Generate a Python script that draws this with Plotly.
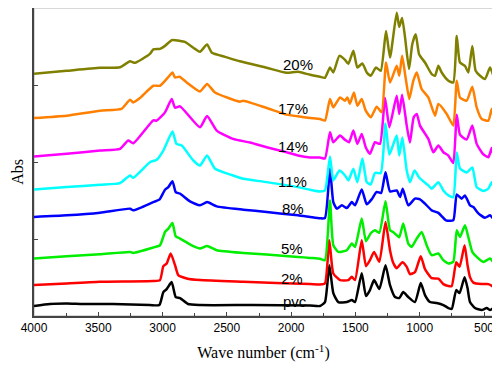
import plotly.graph_objects as go

# ---- data: wavenumbers (cm^-1) and stacked absorbance (arbitrary units) ----
wn_pvc = [4000, 3876, 3746, 3619, 3386, 3100, 3025, 2994, 2968, 2929, 2898, 2864, 2802, 2709, 2300, 1853, 1776, 1737, 1703, 1672,
          1633, 1567, 1528, 1503, 1451, 1418, 1387, 1355, 1314, 1266, 1231, 1192, 1159, 1128, 1089, 1037, 992, 959, 920, 868,
          816, 777, 751, 716, 690, 651, 628, 609, 570, 518, 479, 453, 427]
abs_pvc = [10, 12, 12.5, 12, 12, 11, 11, 24, 27, 34, 19, 18, 12, 11, 11, 10.5, 10, 14, 51, 23,
           14, 14, 16, 14, 43, 20, 26, 36, 27, 51, 31, 19, 18, 24, 19, 14, 33, 21, 14, 13,
           11, 8, 7, 26, 23, 39, 28, 14, 8, 6, 8, 6, 8]

wn_2 = [4000, 3746, 3487, 3072, 3020, 2994, 2968, 2937, 2903, 2878, 2812, 2709, 2372, 1853, 1776, 1737, 1703, 1672, 1620, 1555,
        1528, 1503, 1451, 1418, 1387, 1355, 1314, 1266, 1231, 1208, 1179, 1135, 1101, 1076, 1037, 992, 959, 907, 855, 816,
        777, 751, 716, 690, 651, 628, 609, 583, 518, 466, 427]
abs_2 = [31, 32.7, 34.3, 35, 36, 50, 52.7, 62.7, 51, 41, 37.7, 36, 34.3, 32, 31.5, 32.7, 76, 42.7, 36, 36,
         39.3, 36, 76, 50, 56, 64.3, 54.3, 94.3, 66, 54, 48, 54, 49.3, 42, 44, 60, 47, 38, 37.5, 32,
         30, 30, 54, 49.3, 71, 51, 39, 33.5, 32, 32, 29.3]

wn_5 = [4000, 3746, 3487, 3253, 3228, 3072, 3020, 2981, 2955, 2923, 2898, 2864, 2761, 2709, 2654, 2579, 2372, 2190, 1947, 1853,
        1776, 1737, 1698, 1672, 1633, 1567, 1528, 1503, 1451, 1418, 1381, 1348, 1314, 1266, 1231, 1205, 1179, 1159, 1128, 1089,
        1063, 1023, 985, 946, 907, 855, 816, 777, 739, 712, 687, 648, 622, 591, 557, 505, 453, 430]
abs_5 = [57.7, 60, 62, 64.3, 63.3, 68.7, 71, 84.3, 87.7, 93.3, 80, 77.7, 70, 67.7, 70.3, 66, 63.3, 61.7, 59.3, 58.3,
         57.5, 56, 116, 71, 64.3, 66, 72.7, 69.3, 97.7, 75, 83, 86, 83.5, 115, 86, 84, 81, 79, 92.7, 72.7,
         69.3, 77.7, 84.3, 71, 61, 62.7, 56, 52.7, 54.3, 86, 79.3, 91, 79.3, 64.3, 59.3, 54.3, 57.7, 54.3]

wn_8 = [4000, 3746, 3487, 3253, 3228, 3072, 3025, 2981, 2955, 2923, 2898, 2864, 2787, 2709, 2654, 2579, 2372, 2190, 1947, 1853,
        1776, 1737, 1698, 1672, 1645, 1605, 1567, 1528, 1503, 1451, 1412, 1374, 1335, 1300, 1266, 1231, 1179, 1153, 1132, 1089,
        1037, 998, 959, 907, 855, 796, 739, 712, 674, 648, 609, 583, 544, 492, 453, 430]
abs_8 = [99.3, 101, 103.7, 107.7, 106, 114.3, 116.7, 126.7, 129.3, 135.3, 124.3, 122.7, 115, 111, 114.3, 110, 106.7, 104.3, 101, 99.3,
         98, 98.3, 147.7, 114.3, 107.7, 111, 108.3, 114.3, 111, 127, 112, 117, 124.5, 123.5, 144.3, 125, 126, 119.3, 127.7, 111,
         117.7, 117, 112.7, 106, 103.5, 96, 96, 122, 117.7, 121, 111, 109.3, 103, 98.5, 101, 97.7]

wn_11 = [4000, 3746, 3487, 3331, 3253, 3228, 3098, 3046, 2994, 2923, 2892, 2851, 2761, 2709, 2654, 2592, 2452, 2372, 2190, 1947,
         1853, 1776, 1737, 1698, 1672, 1625, 1581, 1555, 1516, 1485, 1446, 1412, 1381, 1348, 1303, 1266, 1236, 1179, 1159, 1135,
         1101, 1076, 1040, 1005, 933, 907, 855, 816, 777, 739, 712, 687, 635, 591, 557, 505, 466, 440, 427]
abs_11 = [127, 129.3, 131.7, 133.3, 141, 138.7, 154.3, 156.7, 166, 185, 172.7, 171, 156, 151, 161, 147.7, 141, 137.7, 134.3, 129.3,
          126.7, 125, 126, 160, 136, 146, 141, 136, 147.7, 134.3, 158, 134.3, 132, 143.5, 143.5, 193, 162, 181, 161, 179,
          146, 134.3, 146, 139, 131, 127.7, 134.3, 126, 121, 119.3, 164, 148, 144, 149, 129.3, 125.5, 127.7, 134.3, 129.3]

wn_14 = [4000, 3746, 3487, 3331, 3267, 3228, 3072, 3046, 2981, 2929, 2903, 2864, 2709, 2654, 2579, 2452, 2320, 2190, 2035, 1947,
         1853, 1776, 1737, 1698, 1672, 1620, 1581, 1550, 1516, 1485, 1451, 1420, 1387, 1348, 1309, 1270, 1236, 1179, 1159, 1137,
         1101, 1076, 1047, 1023, 998, 933, 894, 855, 816, 777, 739, 712, 687, 635, 591, 557, 509, 466, 440, 427]
abs_14 = [160, 162.7, 166, 167.7, 176, 173.3, 196.3, 196, 204.3, 217.7, 209, 210.3, 189.3, 200.7, 186, 177.7, 174, 169.3, 164.3, 161,
          159, 159, 158, 184.3, 174.3, 181, 176.7, 174.3, 186, 172.7, 182.7, 169.3, 162.7, 174.3, 172.7, 219, 189.3, 221, 202.7, 222,
          191, 174, 199.3, 202.7, 191, 177.7, 164.3, 171, 164.3, 161, 153.5, 202, 182, 177, 191, 172.7, 162.7, 159.3, 168.5, 161]

wn_17 = [4000, 3746, 3487, 3320, 3253, 3228, 3176, 3072, 3020, 2958, 2923, 2903, 2868, 2812, 2709, 2654, 2592, 2398, 2372, 2190,
         2035, 1947, 1853, 1776, 1737, 1698, 1672, 1620, 1581, 1563, 1543, 1512, 1485, 1451, 1420, 1380, 1335, 1296, 1262, 1231,
         1179, 1159, 1137, 1110, 1081, 1050, 1023, 985, 933, 881, 855, 790, 739, 712, 687, 635, 591, 557, 518, 466, 440, 427]
abs_17 = [198.7, 201, 206, 207.7, 217, 214.3, 218.7, 231, 231, 239.3, 244.3, 239.3, 240, 234.3, 225.3, 232.7, 224.3, 215, 216, 208.7,
          202, 200.3, 198.7, 197.7, 196, 217.7, 209.3, 219.3, 216, 219.3, 213, 224.3, 211, 217.7, 206, 199.3, 210, 204.3, 254.3, 234.3,
          251, 241, 261, 239.3, 217.7, 236, 244.3, 227.7, 219.3, 201, 212.7, 202.7, 191, 236, 219.3, 216, 230, 209.3, 197.7, 196,
          207.7, 201]

wn_20 = [4000, 3746, 3487, 3331, 3253, 3214, 3098, 3072, 3020, 2981, 2929, 2864, 2826, 2748, 2709, 2654, 2616, 2514, 2398, 2190,
         2035, 1947, 1853, 1776, 1737, 1698, 1672, 1625, 1581, 1555, 1516, 1485, 1446, 1412, 1381, 1340, 1303, 1262, 1231, 1179,
         1159, 1137, 1114, 1083, 1058, 1031, 1005, 959, 907, 881, 855, 829, 777, 739, 712, 687, 648, 622, 591, 565,
         531, 492, 453, 427]
abs_20 = [243, 246, 249, 249.5, 255.5, 254, 263, 267.5, 268, 271, 276.7, 276, 275, 268, 265, 272.5, 264, 260, 255.5, 249,
          244, 245, 242, 240, 239, 249.3, 244.3, 261, 257, 253, 266, 249.3, 253.3, 244.3, 241, 249.3, 246, 286, 259.3, 304.3,
          290, 299, 279.3, 247.7, 272.7, 282.7, 262.7, 254.3, 242.7, 241, 251, 244.3, 236, 234.3, 281, 254.3, 251, 244.3, 271, 246,
          241, 237.7, 249.3, 241]

series_names = ["pvc", "2%", "5%", "8%", "11%", "14%", "17%", "20%"]
series_wn = [wn_pvc, wn_2, wn_5, wn_8, wn_11, wn_14, wn_17, wn_20]
series_abs = [abs_pvc, abs_2, abs_5, abs_8, abs_11, abs_14, abs_17, abs_20]
colors = ["#000000", "#ff0000", "#00ee00", "#0000ff", "#00ffff", "#ff00ff", "#ff8000", "#808000"]

# label anchor positions (wavenumber, absorbance)
label_wn = [1970, 1997, 1997, 1986, 1986, 1989, 1989, 1950]
label_abs = [14.3, 37.7, 67.7, 107.7, 135, 170.3, 207.7, 252.7]

x_ticks = [4000, 3500, 3000, 2500, 2000, 1500, 1000, 500]
x_minor = [3750, 3250, 2750, 2250, 1750, 1250, 750]
y_ticks = [77.25, 154.5, 231.75, 309]

fig = go.Figure()
for name, wn, ab, col in zip(series_names, series_wn, series_abs, colors):
    fig.add_trace(go.Scatter(x=wn, y=ab, mode="lines", name=name, showlegend=False,
                             line=dict(color=col, width=2.5, shape="spline", smoothing=0.5)))

for name, lx, ly in zip(series_names, label_wn, label_abs):
    fig.add_annotation(x=lx, y=ly, text=name, showarrow=False,
                       font=dict(family="Liberation Sans, Arial", size=15, color="#000000"))

# y-axis title as a rotated annotation
fig.add_annotation(xref="paper", yref="paper", x=-0.036, y=0.47, text="Abs", textangle=-90,
                   showarrow=False, xanchor="center", yanchor="middle",
                   font=dict(family="Liberation Serif, Times New Roman", size=16, color="black"))

fig.add_shape(type="rect", xref="paper", yref="paper", x0=0, x1=1, y0=0, y1=1,
              line=dict(color="#cccccc", width=1.5), layer="below")

# the page body has an 8px default margin, so the figure is sized 8px smaller
fig.update_layout(
    width=492, height=359,
    margin=dict(l=26, r=7, t=0, b=51),
    paper_bgcolor="white", plot_bgcolor="white",
    xaxis=dict(range=[4000, 430], tickvals=x_ticks, ticks="inside", ticklen=4, tickwidth=1,
               tickcolor="#444", showline=True, linecolor="#444", linewidth=1.5,
               showgrid=False, zeroline=False, automargin=False,
               minor=dict(ticks="inside", ticklen=3, tickvals=x_minor, tickcolor="#444"),
               tickfont=dict(family="Liberation Sans, Arial", size=12, color="black"),
               title=dict(text="Wave number (cm<sup>-1</sup>)", standoff=13,
                          font=dict(family="Liberation Serif, Times New Roman", size=16, color="black"))),
    yaxis=dict(range=[0, 309], tickvals=y_ticks, ticks="inside", ticklen=4,
               tickcolor="#444", showticklabels=False, showline=True, linecolor="#444", linewidth=1.5,
               showgrid=False, zeroline=False, automargin=False),
)

fig.write_html("out.html")
